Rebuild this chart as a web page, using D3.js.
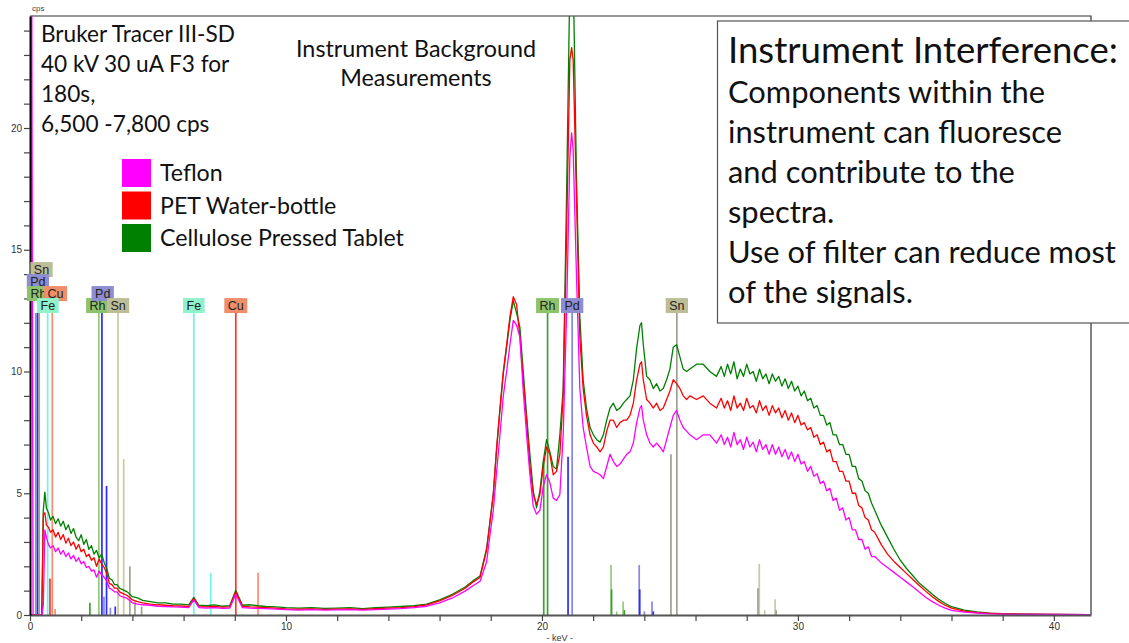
<!DOCTYPE html>
<html>
<head>
<meta charset="utf-8">
<script src="https://cdn.jsdelivr.net/npm/d3@7"></script>
<style>
  body { margin: 0; background: #fff; }
  svg text { font-family: Lato, "Open Sans", sans-serif; fill: #111; }
  .axis text { font-family: Arial, "Liberation Sans", sans-serif; font-size: 10px; fill: #333; }
  .elabel text { font-family: Arial, "Liberation Sans", sans-serif; font-size: 12.5px; fill: #222; }
</style>
</head>
<body>
<svg id="chart" width="1129" height="643"></svg>
<script>
// energy channels (keV) shared by the three spectra
var keV = [
  0, 0.06, 0.12, 0.46, 0.52, 0.58, 0.64, 0.72, 0.8,
  0.9, 1.0, 1.1, 1.2, 1.3, 1.4, 1.5, 1.6, 1.7, 1.8, 1.9, 2.0, 2.1, 2.2, 2.3, 2.4, 2.5, 2.6, 2.7, 2.8, 2.9, 3.0, 3.1, 3.2, 3.3, 3.4, 3.5, 3.6,
  3.8, 4.0, 4.2, 4.4,
  4.7, 5.0, 5.3, 5.6, 5.9, 6.2,
  6.4, 6.6, 6.9, 7.2, 7.5, 7.8,
  8.04, 8.3, 8.6, 8.9, 9.2, 9.6, 10.0,
  10.5, 11.0, 11.5, 12.0, 12.5, 13.0, 13.5, 14.0, 14.5, 15.0, 15.5, 16.0, 16.5, 17.0,
  17.3,
  17.58, 17.84, 17.97, 18.10, 18.23, 18.36, 18.49, 18.62, 18.75, 18.88, 19.01, 19.14, 19.27, 19.40, 19.53, 19.66, 19.79, 19.92, 20.05, 20.18, 20.31, 20.44, 20.57, 20.70, 20.83, 20.96, 21.09,
  21.16, 21.22,
  21.35, 21.48, 21.61, 21.74, 21.88, 22.01, 22.14, 22.27, 22.40, 22.53, 22.66, 22.79, 22.92, 23.05, 23.18, 23.31, 23.44, 23.57, 23.70, 23.83,
  23.89,
  23.96, 24.09, 24.22, 24.35, 24.48, 24.61, 24.74, 24.87, 25.00, 25.13, 25.26, 25.39, 25.52, 25.65, 25.78,
  26.04, 26.30, 26.56, 26.82,
  27.0, 27.125, 27.25, 27.375, 27.5, 27.625, 27.75, 27.875,
  28.0, 28.125, 28.25, 28.375, 28.5, 28.625, 28.75, 28.875,
  29.0, 29.125, 29.25, 29.375, 29.5, 29.625, 29.75, 29.875,
  30.0, 30.125, 30.25, 30.375, 30.5, 30.625, 30.75, 30.875,
  31.0, 31.125, 31.25, 31.375, 31.5, 31.625, 31.75, 31.875,
  32.0, 32.125, 32.25, 32.375, 32.5, 32.625, 32.75, 32.875,
  33.0,
  33.25, 33.5, 33.75, 34.0, 34.25, 34.5, 34.75, 35.0, 35.25, 35.5, 35.75, 36.0,
  36.5, 37.0, 37.5, 38.0, 39.0, 40.0, 41.4
];

// counts per second
var teflon = [
  0, 30, 0, 0, 0.4, 3.5, 3.2, 2.9, 2.75,
  2.85, 2.6, 2.75, 2.5, 2.65, 2.4, 2.55, 2.3, 2.45, 2.2, 2.35, 2.1, 2.2, 1.95, 2.0, 1.8, 1.85, 1.55, 1.8, 1.65, 1.55, 1.4, 1.1, 1.05, 0.95, 0.95, 0.8, 0.75,
  0.68, 0.5, 0.45, 0.42,
  0.4, 0.36, 0.35, 0.33, 0.32, 0.3,
  0.62, 0.3, 0.28, 0.3, 0.27, 0.28,
  0.85, 0.3, 0.28, 0.27, 0.26, 0.24, 0.22,
  0.2, 0.22, 0.2, 0.21, 0.22, 0.2, 0.22, 0.24, 0.26, 0.3, 0.36, 0.5, 0.7, 0.98,
  1.2,
  1.38, 2.19, 3.3, 4.3, 5.9, 7.4, 9.0, 10.0, 11.1, 12.1, 11.9, 11.4, 9.2, 7.4, 5.76, 4.47, 4.14, 4.3, 5.27, 5.76, 5.44, 4.8, 4.7, 4.95, 7.4, 12.3, 18.8,
  19.8, 19.1,
  13.9, 9.3, 7.7, 6.9, 6.1, 5.9, 5.84, 5.76, 5.6, 6.1, 6.6, 6.3, 6.1, 6.2, 6.4, 6.6, 6.7, 7.06, 7.9, 8.5,
  8.6,
  8.0, 7.4, 7.06, 6.9, 7.06, 6.9, 6.7, 7.2, 7.7, 8.2, 8.4, 8.0, 7.7, 7.55, 7.4,
  7.2, 7.4, 7.4, 7.06,
  7.4, 7.0, 7.3, 6.9, 7.5, 7.0, 7.2, 6.8,
  7.3, 6.9, 7.1, 6.7, 7.2, 6.8, 7.0, 6.6,
  7.0, 6.6, 6.9, 6.5, 6.8, 6.4, 6.7, 6.3,
  6.6, 6.2, 6.3, 5.9, 6.1, 5.7, 5.8, 5.4,
  5.5, 5.1, 5.2, 4.7, 4.8, 4.3, 4.4, 3.9,
  4.0, 3.5, 3.5, 3.1, 3.1, 2.7, 2.8, 2.4,
  2.4,
  2.15, 1.95, 1.75, 1.55, 1.35, 1.15, 0.93, 0.72, 0.55, 0.4, 0.28, 0.19,
  0.12, 0.08, 0.05, 0.04, 0.02, 0.02, 0.01
];

var pet = [
  0, 0, 0, 0, 4.1, 4.2, 3.7, 3.6, 3.4,
  3.5, 3.2, 3.4, 3.1, 3.3, 2.95, 3.15, 2.85, 3.0, 2.7, 2.9, 2.6, 2.7, 2.4, 2.5, 2.25, 2.35, 2.0, 2.3, 2.1, 1.95, 1.7, 1.3, 1.25, 1.1, 1.1, 0.95, 0.9,
  0.8, 0.62, 0.55, 0.5,
  0.45, 0.42, 0.4, 0.38, 0.37, 0.35,
  0.68, 0.34, 0.33, 0.35, 0.32, 0.33,
  0.95, 0.35, 0.33, 0.32, 0.3, 0.28, 0.25,
  0.24, 0.25, 0.23, 0.24, 0.25, 0.23, 0.26, 0.28, 0.3, 0.34, 0.42, 0.58, 0.8, 1.1,
  1.35,
  1.54, 2.67, 3.8, 4.95, 6.9, 8.5, 10.0, 11.1, 12.26, 13.07, 12.75, 11.4, 9.65, 8.0, 6.1, 4.95, 4.55, 4.95, 6.1, 6.9, 6.6, 5.76, 5.9, 6.6, 9.0, 15.5, 22.8,
  23.3, 22.8,
  17.1, 11.4, 9.3, 8.2, 7.4, 7.06, 6.9, 6.7, 6.9, 7.55, 8.0, 8.0, 7.7, 7.9, 8.0, 8.0, 8.2, 8.7, 9.66, 10.3,
  10.4,
  9.66, 8.85, 8.7, 8.5, 8.7, 8.4, 8.5, 8.85, 9.2, 9.66, 9.5, 9.3, 9.0, 8.85, 9.0,
  8.85, 9.0, 8.7, 8.5,
  8.9, 8.5, 8.8, 8.4, 9.0, 8.5, 8.7, 8.4,
  8.9, 8.5, 8.6, 8.3, 8.8, 8.4, 8.6, 8.2,
  8.6, 8.3, 8.5, 8.1, 8.4, 8.0, 8.3, 7.9,
  8.2, 7.8, 7.9, 7.6, 7.7, 7.3, 7.4, 7.0,
  7.1, 6.7, 6.8, 6.3, 6.3, 5.9, 5.9, 5.5,
  5.5, 5.0, 5.0, 4.5, 4.4, 4.0, 3.9, 3.5,
  3.4,
  2.9, 2.5, 2.2, 1.95, 1.7, 1.45, 1.2, 0.97, 0.75, 0.56, 0.4, 0.28,
  0.16, 0.1, 0.07, 0.05, 0.03, 0.02, 0.01
];

var cellulose = [
  0, 0, 0, 0, 4.3, 5.05, 4.4, 4.2, 3.9,
  4.05, 3.75, 3.95, 3.65, 3.85, 3.5, 3.7, 3.35, 3.55, 3.2, 3.05, 3.3, 2.9, 3.1, 2.7, 2.85, 2.5, 2.65, 2.35, 2.5, 2.15, 1.9, 1.5, 1.45, 1.25, 1.25, 1.1, 1.05,
  0.95, 0.75, 0.7, 0.6,
  0.55, 0.5, 0.5, 0.45, 0.45, 0.42,
  0.72, 0.4, 0.38, 0.42, 0.36, 0.38,
  1.02, 0.4, 0.42, 0.38, 0.35, 0.33, 0.3,
  0.28, 0.3, 0.27, 0.28, 0.3, 0.26, 0.3, 0.32, 0.35, 0.38, 0.45, 0.62, 0.85, 1.15,
  1.4,
  1.6, 2.75, 3.85, 5.0, 6.8, 8.4, 9.9, 11.0, 12.1, 12.9, 12.4, 11.8, 10.0, 8.2, 6.6, 5.1, 4.4, 5.1, 6.3, 7.2, 6.7, 6.1, 6.0, 7.4, 9.3, 17.1, 26.0,
  27.5, 26.5,
  17.9, 12.26, 9.66, 8.5, 7.7, 7.4, 7.2, 7.1, 7.4, 8.0, 8.5, 8.7, 8.4, 8.5, 8.7, 8.85, 9.0, 9.66, 10.96, 11.9,
  12.0,
  11.1, 9.8, 9.66, 9.3, 9.5, 9.2, 9.3, 9.66, 10.1, 11.0, 11.1, 10.6, 10.1, 10.0, 10.1,
  10.3, 10.3, 10.0, 9.8,
  10.2, 9.8, 10.3, 9.9, 10.4, 9.7, 10.1, 9.8,
  10.3, 9.9, 10.0, 9.6, 10.1, 9.7, 9.9, 9.5,
  9.9, 9.6, 9.8, 9.4, 9.7, 9.3, 9.6, 9.2,
  9.4, 9.0, 9.2, 8.8, 8.9, 8.5, 8.6, 8.2,
  8.2, 7.8, 7.9, 7.4, 7.4, 7.0, 7.0, 6.6,
  6.6, 6.1, 6.1, 5.6, 5.5, 5.1, 5.0, 4.6,
  4.3,
  3.7, 3.2, 2.7, 2.25, 1.9, 1.6, 1.3, 1.08, 0.85, 0.65, 0.48, 0.34,
  0.2, 0.13, 0.08, 0.06, 0.03, 0.02, 0.01
];

var seriesNames = ["Teflon", "PET Water-bottle", "Cellulose Pressed Tablet"];
var seriesColors = ["#ff00ff", "#ff0000", "#008000"];

// element marker lines: energy, height in cps (null = up to the label row)
var markerLines = [
  {keV: 0.23, cps: null, tone: "pdL"}, {keV: 0.30, cps: null, tone: "pd"}, {keV: 0.36, cps: null, tone: "sn"},
  {keV: 0.48, cps: 0.5, tone: "pdL"}, {keV: 0.69, cps: null, tone: "fe"}, {keV: 0.78, cps: 1.5, tone: "cu"},
  {keV: 0.87, cps: null, tone: "cuL"}, {keV: 0.98, cps: 0.25, tone: "cuL"},
  {keV: 2.34, cps: 0.5, tone: "rh"}, {keV: 2.69, cps: null, tone: "rhL"}, {keV: 2.81, cps: null, tone: "pd"},
  {keV: 2.89, cps: 0.75, tone: "pdL"}, {keV: 2.99, cps: 5.3, tone: "pd"}, {keV: 3.14, cps: 0.3, tone: "pdL"},
  {keV: 3.33, cps: 0.35, tone: "pd"}, {keV: 3.44, cps: null, tone: "snL"}, {keV: 3.66, cps: 6.4, tone: "snL"},
  {keV: 3.90, cps: 2.0, tone: "sn"}, {keV: 4.10, cps: 0.55, tone: "sn"}, {keV: 4.36, cps: 0.35, tone: "sn"},
  {keV: 6.40, cps: null, tone: "fe"}, {keV: 7.06, cps: 1.72, tone: "fe"},
  {keV: 8.04, cps: null, tone: "cu"}, {keV: 8.91, cps: 1.74, tone: "cuL"},
  {keV: 20.07, cps: 6.4, tone: "rh"}, {keV: 20.22, cps: null, tone: "rh"},
  {keV: 21.02, cps: 6.5, tone: "pd"}, {keV: 21.18, cps: null, tone: "pdL"},
  {keV: 22.70, cps: 2.05, tone: "rhL"}, {keV: 22.72, cps: 1.05, tone: "rh"}, {keV: 22.92, cps: 0.15, tone: "rhL"},
  {keV: 23.17, cps: 0.55, tone: "rhL"}, {keV: 23.22, cps: 0.2, tone: "rh"},
  {keV: 23.80, cps: 2.05, tone: "pdL"}, {keV: 23.82, cps: 1.05, tone: "pd"}, {keV: 24.00, cps: 0.15, tone: "pdL"},
  {keV: 24.30, cps: 0.55, tone: "pdL"}, {keV: 24.35, cps: 0.15, tone: "pd"},
  {keV: 25.04, cps: 6.6, tone: "sn"}, {keV: 25.27, cps: null, tone: "sn"},
  {keV: 28.49, cps: 2.1, tone: "snL"}, {keV: 28.44, cps: 1.1, tone: "sn"}, {keV: 28.70, cps: 0.2, tone: "snL"},
  {keV: 29.11, cps: 0.65, tone: "snL"}, {keV: 29.15, cps: 0.2, tone: "sn"}
];

// element tags, stacked in rows where they crowd
var elementLabels = [
  {el: "Sn", keV: 0.45, row: 3}, {el: "Pd", keV: 0.31, row: 2}, {el: "Rh", keV: 0.33, row: 1},
  {el: "Cu", keV: 1.0, row: 1}, {el: "Fe", keV: 0.70, row: 0},
  {el: "Rh", keV: 2.64, row: 0}, {el: "Pd", keV: 2.84, row: 1}, {el: "Sn", keV: 3.44, row: 0},
  {el: "Fe", keV: 6.40, row: 0}, {el: "Cu", keV: 8.04, row: 0},
  {el: "Rh", keV: 20.22, row: 0}, {el: "Pd", keV: 21.18, row: 0}, {el: "Sn", keV: 25.27, row: 0}
];
var labelLevel = 12.4;

var infoLines = ["Bruker Tracer III-SD", "40 kV 30 uA F3 for", "180s,", "6,500 -7,800 cps"];
var titleLines = ["Instrument Background", "Measurements"];
var noteHead = "Instrument Interference:";
var noteLines = ["Components within the", "instrument can fluoresce", "and contribute to the", "spectra.",
                 "Use of filter can reduce most", "of the signals."];

var toneColors = {rh: "#3f9f35", rhL: "#95c97a", pd: "#2b2bff", pdL: "#8585ea", sn: "#a0a090", snL: "#c9c9a3",
                  fe: "#6ff3ee", cu: "#ff3526", cuL: "#ff8a72"};
var tagColors = {Sn: "#bdbd98", Pd: "#8d8dcf", Rh: "#8dc46b", Cu: "#f08e6a", Fe: "#8ff2cb"};

[teflon, pet, cellulose].forEach(function(s) {
  if (s.length != keV.length) throw new Error("series length " + s.length + " vs " + keV.length);
});

var width = 1129, height = 643;
var margin = {top: 16, right: 38, bottom: 28, left: 30};
var plotW = width - margin.left - margin.right,
    plotH = height - margin.top - margin.bottom;

var x = d3.scaleLinear().domain([0, 41.45]).range([margin.left, margin.left + plotW]);
var y = d3.scaleLinear().domain([0, 24.6]).range([margin.top + plotH, margin.top]);

var svg = d3.select("#chart");

svg.append("defs").append("clipPath").attr("id", "plotClip")
  .append("rect")
    .attr("x", margin.left).attr("y", margin.top)
    .attr("width", plotW).attr("height", plotH);

// top and right frame
svg.append("path")
  .attr("d", "M" + margin.left + "," + margin.top + "H" + (margin.left + plotW) + "V" + (margin.top + plotH))
  .attr("fill", "none").attr("stroke", "#333").attr("stroke-width", 1.2);

// element lines
svg.append("g").attr("clip-path", "url(#plotClip)")
  .selectAll("line").data(markerLines).enter().append("line")
    .attr("x1", function(d) { return x(d.keV); })
    .attr("x2", function(d) { return x(d.keV); })
    .attr("y1", y(0))
    .attr("y2", function(d) { return y(d.cps == null ? labelLevel : d.cps); })
    .attr("stroke", function(d) { return toneColors[d.tone]; })
    .attr("stroke-width", 1.7);

// spectra
var line = d3.line()
  .x(function(d, i) { return x(keV[i]); })
  .y(function(d) { return y(d); });

var spectra = [cellulose, pet, teflon];
var spectraColors = [seriesColors[2], seriesColors[1], seriesColors[0]];
svg.append("g").attr("clip-path", "url(#plotClip)")
  .selectAll("path").data(spectra).enter().append("path")
    .attr("d", line)
    .attr("fill", "none")
    .attr("stroke", function(d, i) { return spectraColors[i]; })
    .attr("stroke-width", 1.3)
    .attr("stroke-linejoin", "round");

// axes
var yAxis = d3.axisLeft(y)
  .tickValues(d3.range(0, 25, 1))
  .tickSize(6).tickSizeOuter(0).tickPadding(2)
  .tickFormat(function(d) { return d % 5 === 0 ? d : ""; });
var xAxis = d3.axisBottom(x)
  .tickValues(d3.range(0, 42, 2))
  .tickSize(6).tickSizeOuter(0).tickPadding(2)
  .tickFormat(function(d) { return d % 10 === 0 ? d : ""; });

var gx = svg.append("g").attr("class", "axis")
  .attr("transform", "translate(0," + (margin.top + plotH) + ")")
  .call(xAxis);
gx.select(".domain").attr("stroke", "#555").attr("stroke-width", 2);
gx.selectAll(".tick line").attr("stroke", "#444").attr("stroke-width", 1.2);

var gy = svg.append("g").attr("class", "axis")
  .attr("transform", "translate(" + margin.left + ",0)")
  .call(yAxis);
gy.select(".domain").attr("stroke", "#000").attr("stroke-width", 2);
gy.selectAll(".tick line").attr("stroke", "#444").attr("stroke-width", 1.2);

svg.append("text").attr("class", "axis")
  .attr("x", 32).attr("y", 11)
  .style("font-family", "Arial, sans-serif").style("font-size", "8px").style("fill", "#444")
  .text("cps");
svg.append("text")
  .attr("x", x(20.7)).attr("y", 641)
  .attr("text-anchor", "middle")
  .style("font-family", "Arial, sans-serif").style("font-size", "9px").style("fill", "#333")
  .text("- keV -");

// element tags
var tags = svg.append("g").attr("class", "elabel")
  .selectAll("g").data(elementLabels).enter().append("g");
tags.each(function(d) {
  var g = d3.select(this);
  var bottom = y(labelLevel) - d.row * 12;
  var rect = g.append("rect");
  var t = g.append("text")
    .attr("x", x(d.keV)).attr("y", bottom - 3.5)
    .attr("text-anchor", "middle")
    .text(d.el);
  var w = t.node().getComputedTextLength() + 7;
  rect.attr("x", x(d.keV) - w / 2).attr("y", bottom - 15)
    .attr("width", w).attr("height", 15)
    .attr("fill", tagColors[d.el]);
});

// fit a block of lines so its reference line spans the target width
function fitBlock(sel, refIndex, target) {
  sel.style("font-size", "20px");
  var w = sel.nodes()[refIndex].getComputedTextLength();
  sel.style("font-size", (20 * target / w) + "px");
}

var info = svg.append("g").selectAll("text").data(infoLines).enter().append("text")
  .attr("x", 41).attr("y", function(d, i) { return 42 + i * 30; })
  .text(function(d) { return d; });
fitBlock(info, 0, 194);

var title = svg.append("g").selectAll("text").data(titleLines).enter().append("text")
  .attr("x", 416).attr("y", function(d, i) { return 57 + i * 29; })
  .attr("text-anchor", "middle")
  .text(function(d) { return d; });
fitBlock(title, 0, 240);

// legend
var legend = svg.append("g").selectAll("g").data(seriesNames).enter().append("g")
  .attr("transform", function(d, i) { return "translate(122," + (159 + i * 32.5) + ")"; });
legend.append("rect").attr("width", 29).attr("height", 28)
  .attr("fill", function(d, i) { return seriesColors[i]; });
var legendText = legend.append("text").attr("x", 38).attr("y", 22).text(function(d) { return d; });
fitBlock(legendText, 2, 244);

// note box
var note = svg.append("g");
note.append("rect")
  .attr("x", 717.5).attr("y", 21).attr("width", 430).attr("height", 302)
  .attr("fill", "#fff").attr("stroke", "#555").attr("stroke-width", 1.2);
var head = note.append("text").attr("x", 728).attr("y", 63).text(noteHead);
fitBlock(head, 0, 390);
var body = note.selectAll("text.body").data(noteLines).enter().append("text")
  .attr("class", "body")
  .attr("x", 728).attr("y", function(d, i) { return 103 + i * 40; })
  .text(function(d) { return d; });
fitBlock(body, 4, 388);
</script>
</body>
</html>
